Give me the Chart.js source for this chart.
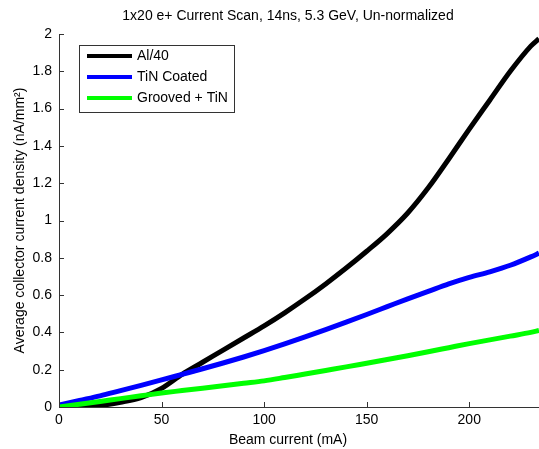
<!DOCTYPE html>
<html>
<head>
<meta charset="utf-8">
<script src="https://cdn.jsdelivr.net/npm/chart.js@4.4.0/dist/chart.umd.min.js"></script>
<style>
  html, body { margin: 0; padding: 0; background: #fff; }
  #wrap { width: 539px; height: 449px; }
</style>
</head>
<body>
<div id="wrap"><canvas id="chart" width="539" height="449"></canvas></div>
<script>
const titleText = "1x20 e+ Current Scan, 14ns, 5.3 GeV, Un-normalized";
const xLabel = "Beam current (mA)";
const yLabel = "Average collector current density (nA/mm\u00B2)";

const beamCurrent = [0, 10, 20, 30, 40, 50, 60, 70, 80, 90, 100, 110, 120, 130, 140, 150, 160, 170, 180, 190, 200, 210, 220, 230, 234];
const al40 =        [0, 0, 0.008, 0.025, 0.05, 0.1, 0.175, 0.24, 0.305, 0.37, 0.435, 0.505, 0.58, 0.66, 0.745, 0.835, 0.93, 1.04, 1.175, 1.33, 1.49, 1.645, 1.8, 1.935, 1.975];
const tinCoated =   [0.01, 0.035, 0.06, 0.088, 0.116, 0.145, 0.175, 0.205, 0.236, 0.268, 0.302, 0.338, 0.376, 0.415, 0.455, 0.496, 0.538, 0.58, 0.62, 0.66, 0.695, 0.725, 0.76, 0.805, 0.825];
const groovedTin =  [0, 0.015, 0.03, 0.045, 0.06, 0.075, 0.088, 0.101, 0.114, 0.127, 0.14, 0.158, 0.177, 0.196, 0.215, 0.235, 0.255, 0.275, 0.296, 0.318, 0.34, 0.36, 0.38, 0.4, 0.41];

const seriesNames = ["Al/40", "TiN Coated", "Grooved + TiN"];
const seriesColors = ["#000000", "#0000ff", "#00ff00"];
const xTicks = [0, 50, 100, 150, 200];

const toPoints = (ys) => beamCurrent.map((x, i) => ({ x: x, y: ys[i] }));

const fontFamily = "'Liberation Sans', Arial, sans-serif";
const font = { family: fontFamily, size: 14 };

// matlab style: inward ticks, legend box, title
const matlabBits = {
  id: "matlabBits",
  afterDraw(chart) {
    const ctx = chart.ctx;
    const a = chart.chartArea;
    const xs = chart.scales.x, ys = chart.scales.y;
    ctx.save();
    ctx.strokeStyle = "#333";
    ctx.lineWidth = 1;
    ctx.beginPath();
    xs.ticks.forEach(t => {
      const px = Math.round(xs.getPixelForValue(t.value)) + 0.5;
      ctx.moveTo(px, a.bottom);
      ctx.lineTo(px, a.bottom - 5);
    });
    ys.ticks.forEach(t => {
      const py = Math.round(ys.getPixelForValue(t.value)) + 0.5;
      ctx.moveTo(a.left, py);
      ctx.lineTo(a.left + 5, py);
    });
    ctx.stroke();

    // title + x label
    const cx = a.left + 229;
    ctx.fillStyle = "#000";
    ctx.font = "14px " + fontFamily;
    ctx.textAlign = "center";
    ctx.textBaseline = "middle";
    ctx.fillText(titleText, cx, 16);
    ctx.fillText(xLabel, cx, 440);

    // legend
    const lx = a.left + 20, ly = a.top + 11;
    ctx.fillStyle = "#fff";
    ctx.fillRect(lx, ly, 155, 67);
    ctx.strokeStyle = "#333";
    ctx.lineWidth = 1;
    ctx.strokeRect(lx + 0.5, ly + 0.5, 155, 67);
    ctx.textAlign = "left";
    chart.data.datasets.forEach((ds, i) => {
      const y = ly + 11 + i * 21;
      ctx.strokeStyle = ds.borderColor;
      ctx.lineWidth = 4;
      ctx.beginPath();
      ctx.moveTo(lx + 8, y);
      ctx.lineTo(lx + 53, y);
      ctx.stroke();
      ctx.fillStyle = "#000";
      ctx.fillText(ds.label, lx + 58, y);
    });
    ctx.restore();
  }
};

const data = {
  datasets: [
    { label: seriesNames[0], data: toPoints(al40), borderColor: seriesColors[0], order: 3 },
    { label: seriesNames[1], data: toPoints(tinCoated), borderColor: seriesColors[1], order: 2 },
    { label: seriesNames[2], data: toPoints(groovedTin), borderColor: seriesColors[2], order: 1 }
  ].map(d => Object.assign(d, { borderWidth: 5, pointRadius: 0, fill: false, cubicInterpolationMode: "monotone" }))
};

const config = {
  type: "line",
  data: data,
  options: {
    responsive: false,
    animation: false,
    layout: { padding: { top: 34, right: 0, left: 0, bottom: 0 } },
    plugins: { legend: { display: false }, tooltip: { enabled: false } },
    scales: {
      x: {
        type: "linear",
        min: 0,
        max: 234,
        afterFit: (s) => { s.height = 42; },
        afterBuildTicks: (s) => { s.ticks = xTicks.map(v => ({ value: v })); },
        grid: { drawOnChartArea: false, drawTicks: false },
        border: { color: "#333", width: 1 },
        ticks: { color: "#000", font: font, padding: 5, maxRotation: 0 }
      },
      y: {
        min: 0,
        max: 2,
        afterFit: (s) => { s.width = 59; },
        grid: { drawOnChartArea: false, drawTicks: false },
        border: { color: "#333", width: 1 },
        ticks: {
          stepSize: 0.2, color: "#000", font: font, padding: 7,
          callback: (v) => String(Number(v.toFixed(1)))
        },
        title: { display: true, text: yLabel, color: "#000", font: font, padding: { top: 12, bottom: 0 } }
      }
    }
  },
  plugins: [matlabBits]
};

new Chart(document.getElementById("chart").getContext("2d"), config);
</script>
</body>
</html>
